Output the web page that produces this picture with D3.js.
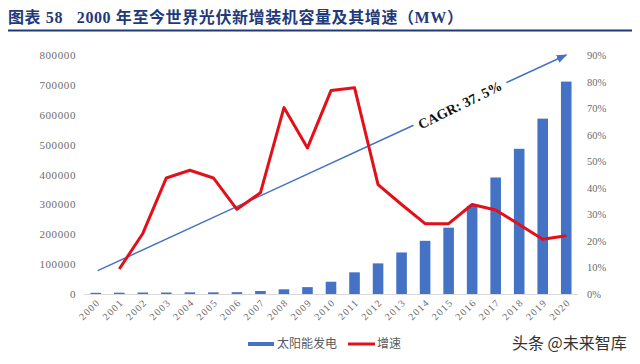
<!DOCTYPE html>
<html>
<head>
<meta charset="utf-8">
<style>
  body{margin:0;background:#fff;}
  svg{display:block;}
  .tick{font-family:"Liberation Serif","Times New Roman",serif;fill:#6b6b6b;}
</style>
<script src="https://cdn.jsdelivr.net/npm/d3@7"></script>
</head>
<body>
<svg id="chart" width="640" height="364"></svg>
<script>
var years = ["2000","2001","2002","2003","2004","2005","2006","2007","2008","2009","2010",
             "2011","2012","2013","2014","2015","2016","2017","2018","2019","2020"];
// 新增装机容量 (MW)
var capacity = [4000,4500,5000,5000,5500,5500,6000,10000,15700,23000,41000,
                72500,102500,139000,178000,222000,295000,390000,486000,587000,711000];
// 增速, 2000 has none
var growthYears = years.slice(1);
var growth = [0.094,0.228,0.437,0.466,0.437,0.319,0.381,0.702,0.55,0.766,
              0.777,0.412,0.337,0.265,0.265,0.337,0.316,0.262,0.206,0.219];
var leftTicks = [0,100000,200000,300000,400000,500000,600000,700000,800000];
var rightTicks = [0,0.1,0.2,0.3,0.4,0.5,0.6,0.7,0.8,0.9];
// CAGR arrow, in [year, growth] terms
var arrowFrom = ["2000",0.088], arrowTo = ["2020",0.9];

var svg = d3.select("#chart");
var blue = "#4472c4", red = "#e3101a", navy = "#1f3a7a";

var x = d3.scaleBand().domain(years).range([84,578]).paddingInner(0.55).paddingOuter(0.275);
var yL = d3.scaleLinear().domain([0,800000]).range([294,55]);
var yR = d3.scaleLinear().domain([0,0.9]).range([294,55]);
var cx = function(d){ return x(d)+x.bandwidth()/2; };

// title
svg.append("text").attr("x",8).attr("y",23)
  .style("font-family","'Liberation Serif','Noto Sans CJK SC',serif")
  .style("font-weight","bold").style("font-size","16px").style("letter-spacing","0.6px")
  .style("white-space","pre").attr("fill",navy)
  .text("图表 58   2000 年至今世界光伏新增装机容量及其增速（MW）");
svg.append("line").attr("x1",8).attr("x2",632).attr("y1",30.5).attr("y2",30.5)
  .attr("stroke",navy).attr("stroke-width",2);

// left axis labels
svg.append("g").selectAll("text").data(leftTicks).join("text")
  .attr("class","tick").attr("x",76).attr("y",function(d){return yL(d)+4;})
  .attr("text-anchor","end").style("font-size","11px").style("letter-spacing","0.6px")
  .text(function(d){return d;});

// right axis labels
svg.append("g").selectAll("text").data(rightTicks).join("text")
  .attr("class","tick").attr("x",587).attr("y",function(d){return yR(d)+4;})
  .style("font-size","10.5px")
  .text(function(d){return Math.round(d*100)+"%";});

// baseline
svg.append("line").attr("x1",84).attr("x2",578).attr("y1",yL(0)+0.5).attr("y2",yL(0)+0.5)
  .attr("stroke","#d9d9d9").attr("stroke-width",1);

// year labels
svg.append("g").selectAll("text").data(years).join("text")
  .attr("class","tick").style("font-size","10px").style("letter-spacing","1.3px")
  .attr("text-anchor","end")
  .attr("transform",function(d){return "translate("+(cx(d)+5)+","+(yL(0)+9)+") rotate(-45)";})
  .text(function(d){return d;});

// bars
svg.append("g").selectAll("rect").data(capacity).join("rect")
  .attr("x",function(d,i){return x(years[i]);})
  .attr("width",x.bandwidth())
  .attr("y",function(d){return yL(d);})
  .attr("height",function(d){return yL(0)-yL(d);})
  .attr("fill",blue);

// CAGR arrow (with a gap for the label)
svg.append("defs").append("marker").attr("id","arr")
  .attr("viewBox","0 0 10 10").attr("refX",9).attr("refY",5)
  .attr("markerWidth",7).attr("markerHeight",7).attr("orient","auto")
  .append("path").attr("d","M0,1 L10,5 L0,9 Z").attr("fill",blue);
var p0 = [cx(arrowFrom[0])+2, yR(arrowFrom[1])], p1 = [cx(arrowTo[0]), yR(arrowTo[1])];
var at = function(t){ return [p0[0]+(p1[0]-p0[0])*t, p0[1]+(p1[1]-p0[1])*t]; };
var gapA = at(0.674), gapB = at(0.872);
svg.append("line").attr("x1",p0[0]).attr("y1",p0[1]).attr("x2",gapA[0]).attr("y2",gapA[1])
  .attr("stroke",blue).attr("stroke-width",1.5);
svg.append("line").attr("x1",gapB[0]).attr("y1",gapB[1]).attr("x2",p1[0]).attr("y2",p1[1])
  .attr("stroke",blue).attr("stroke-width",1.5).attr("marker-end","url(#arr)");
var mid = at(0.773);
var ang = Math.atan2(p1[1]-p0[1], p1[0]-p0[0])*180/Math.PI - 1.5;
svg.append("text").attr("transform","translate("+mid[0]+","+(mid[1]+1)+") rotate("+ang+")")
  .attr("text-anchor","middle").attr("dy","0.35em")
  .style("font-family","'Liberation Serif',serif").style("font-weight","bold").style("font-size","14px")
  .style("white-space","pre").attr("fill","#111").text("CAGR: 37. 5%");

// growth line
var line = d3.line().x(function(d,i){return cx(growthYears[i]);}).y(function(d){return yR(d);});
svg.append("path").datum(growth).attr("d",line)
  .attr("fill","none").attr("stroke",red).attr("stroke-width",3).attr("stroke-linejoin","round");

// legend
var lg = svg.append("g").style("font-family","'Noto Sans CJK SC',sans-serif").style("font-size","12px");
lg.append("rect").attr("x",248).attr("y",342).attr("width",26).attr("height",4).attr("fill",blue);
lg.append("text").attr("x",277).attr("y",348).attr("fill","#595959").text("太阳能发电");
lg.append("line").attr("x1",348).attr("x2",375).attr("y1",344).attr("y2",344).attr("stroke",red).attr("stroke-width",3);
lg.append("text").attr("x",377).attr("y",348).attr("fill","#595959").text("增速");

// watermark
svg.append("text").attr("x",512).attr("y",349)
  .style("font-family","'Noto Sans CJK SC',sans-serif").style("font-size","16px")
  .attr("fill","#333").text("头条 @未来智库");
</script>
</body>
</html>
